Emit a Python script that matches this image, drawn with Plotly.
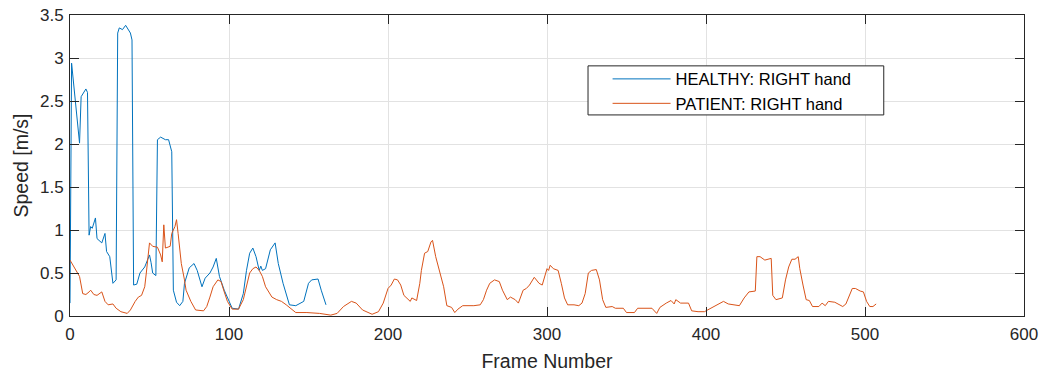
import plotly.graph_objects as go

healthy_frame = [0, 1, 6, 7, 10, 11, 12, 13, 14, 16, 17, 20, 22, 23, 25, 27, 29, 30, 31, 33, 35, 38, 39,
                 40, 42, 44, 47, 50, 51, 52, 54, 55, 57, 60, 62, 64, 65, 67, 69, 71, 72, 75, 78, 80,
                 83, 85, 88, 90, 92, 94, 97, 100, 102, 106, 109, 111, 113, 115, 117, 119, 120, 121,
                 123, 126, 129, 131, 134, 138, 142, 147, 150, 152, 156, 158, 161]
healthy_speed = [0.15, 2.94, 2.01, 2.55, 2.64, 2.60, 0.94, 1.04, 1.02, 1.14, 0.90, 0.85, 0.96, 0.75, 0.69,
                 0.38, 0.42, 3.29, 3.35, 3.33, 3.38, 3.29, 3.21, 0.36, 0.37, 0.50, 0.57, 0.71, 0.62,
                 0.50, 0.47, 2.05, 2.08, 2.05, 2.05, 1.91, 0.30, 0.16, 0.12, 0.17, 0.38, 0.56, 0.61,
                 0.53, 0.34, 0.44, 0.50, 0.57, 0.67, 0.46, 0.30, 0.17, 0.09, 0.08, 0.26, 0.53, 0.73,
                 0.79, 0.69, 0.53, 0.58, 0.53, 0.55, 0.77, 0.85, 0.61, 0.38, 0.13, 0.12, 0.17, 0.38,
                 0.42, 0.43, 0.30, 0.13]

patient_frame = [0, 4, 6, 8, 10, 12, 13, 15, 17, 20, 22, 24, 27, 29, 32, 36, 38, 41, 43, 45, 47, 48, 50,
                 52, 55, 57, 58, 59, 60, 63, 64, 66, 67, 68, 70, 72, 73, 76, 79, 84, 86, 88, 90, 93,
                 95, 97, 99, 102, 106, 109, 111, 113, 115, 117, 119, 121, 123, 127, 130, 133, 136,
                 139, 142, 149, 157, 164, 168, 172, 177, 180, 184, 190, 194, 197, 200, 202, 204, 206,
                 208, 210, 214, 215, 218, 220, 221, 223, 225, 227, 228, 230, 232, 235, 237, 240, 242,
                 244, 247, 254, 258, 260, 262, 264, 267, 270, 272, 275, 277, 280, 282, 285, 287, 289,
                 292, 295, 297, 300, 301, 302, 304, 307, 309, 311, 313, 317, 320, 322, 324, 326, 328,
                 331, 333, 335, 337, 341, 343, 348, 350, 355, 357, 366, 369, 371, 375, 378, 380, 381,
                 384, 389, 391, 395, 399, 402, 407, 411, 414, 421, 424, 427, 431, 432, 434, 437, 441,
                 442, 444, 448, 450, 452, 454, 456, 458, 459, 461, 463, 465, 467, 471, 473, 475, 477,
                 481, 483, 486, 488, 490, 492, 494, 497, 499, 501, 503, 505, 507]
patient_speed = [0.65, 0.53, 0.46, 0.26, 0.25, 0.28, 0.30, 0.25, 0.24, 0.28, 0.17, 0.13, 0.14, 0.09, 0.05,
                 0.03, 0.07, 0.17, 0.22, 0.24, 0.34, 0.50, 0.85, 0.81, 0.80, 0.71, 0.63, 1.06, 0.79,
                 0.81, 0.96, 1.04, 1.12, 0.96, 0.61, 0.42, 0.30, 0.17, 0.07, 0.06, 0.11, 0.22, 0.34,
                 0.42, 0.40, 0.28, 0.17, 0.08, 0.08, 0.19, 0.34, 0.50, 0.55, 0.57, 0.53, 0.46, 0.34,
                 0.22, 0.19, 0.17, 0.13, 0.09, 0.04, 0.04, 0.03, 0.01, 0.03, 0.11, 0.17, 0.15, 0.07,
                 0.02, 0.05, 0.15, 0.32, 0.36, 0.43, 0.42, 0.36, 0.24, 0.17, 0.21, 0.18, 0.38, 0.53,
                 0.73, 0.75, 0.86, 0.88, 0.69, 0.55, 0.34, 0.12, 0.10, 0.04, 0.08, 0.12, 0.12, 0.13,
                 0.19, 0.30, 0.38, 0.42, 0.40, 0.30, 0.19, 0.22, 0.19, 0.15, 0.30, 0.32, 0.36, 0.45,
                 0.38, 0.36, 0.55, 0.53, 0.59, 0.55, 0.53, 0.38, 0.21, 0.13, 0.13, 0.12, 0.15, 0.26,
                 0.50, 0.53, 0.54, 0.42, 0.19, 0.10, 0.11, 0.09, 0.09, 0.04, 0.04, 0.09, 0.09, 0.03,
                 0.10, 0.15, 0.18, 0.14, 0.19, 0.15, 0.15, 0.06, 0.05, 0.05, 0.08, 0.13, 0.17, 0.14,
                 0.12, 0.21, 0.28, 0.29, 0.69, 0.69, 0.65, 0.67, 0.24, 0.19, 0.21, 0.42, 0.57, 0.66,
                 0.66, 0.69, 0.55, 0.36, 0.19, 0.18, 0.11, 0.11, 0.15, 0.12, 0.17, 0.16, 0.14, 0.11,
                 0.14, 0.22, 0.32, 0.32, 0.29, 0.28, 0.17, 0.11, 0.11, 0.14]

x_ticks = [0, 100, 200, 300, 400, 500, 600]
y_ticks = [0, 0.5, 1, 1.5, 2, 2.5, 3, 3.5]

FONT = "Liberation Sans, Arial, Helvetica, sans-serif"
TXT = "#262626"

fig = go.Figure()
fig.add_trace(go.Scatter(x=healthy_frame, y=healthy_speed, mode="lines",
                         name="HEALTHY: RIGHT hand", line=dict(color="#0072BD", width=1)))
fig.add_trace(go.Scatter(x=patient_frame, y=patient_speed, mode="lines",
                         name="PATIENT: RIGHT hand", line=dict(color="#D95319", width=1)))

axis_common = dict(showline=True, linecolor=TXT, linewidth=1, mirror="ticks",
                   ticks="inside", ticklen=9, tickcolor=TXT, tickwidth=1,
                   showgrid=True, gridcolor="#e2e2e2", gridwidth=1, zeroline=False,
                   automargin=False,
                   tickfont=dict(family=FONT, size=17, color=TXT))

fig.update_xaxes(range=[0, 600], tickvals=x_ticks, ticklabelstandoff=3,
                 title=dict(text="Frame Number", font=dict(family=FONT, size=19.5, color=TXT), standoff=10),
                 **axis_common)
fig.update_yaxes(range=[0, 3.5], tickvals=y_ticks, ticklabelstandoff=2,
                 title=dict(text="Speed [m/s]", font=dict(family=FONT, size=19.5, color=TXT), standoff=6),
                 **axis_common)

# legend frame (drawn as a box, legend entries placed inside it)
fig.add_shape(type="rect", xref="paper", yref="paper",
              x0=0.543, x1=0.853, y0=0.668, y1=0.831,
              fillcolor="white", line=dict(color=TXT, width=1), layer="above")

fig.update_layout(
    width=1052, height=374,
    margin=dict(l=70, r=28, t=15, b=58, autoexpand=False),
    paper_bgcolor="white", plot_bgcolor="white",
    font=dict(family=FONT, color=TXT),
    legend=dict(x=0.5635, y=0.845, xanchor="left", yanchor="top",
                bgcolor="rgba(0,0,0,0)", borderwidth=0,
                font=dict(family=FONT, size=16.5, color="#000000"),
                itemwidth=58, tracegroupgap=0),
)

fig.write_html("out.html")
